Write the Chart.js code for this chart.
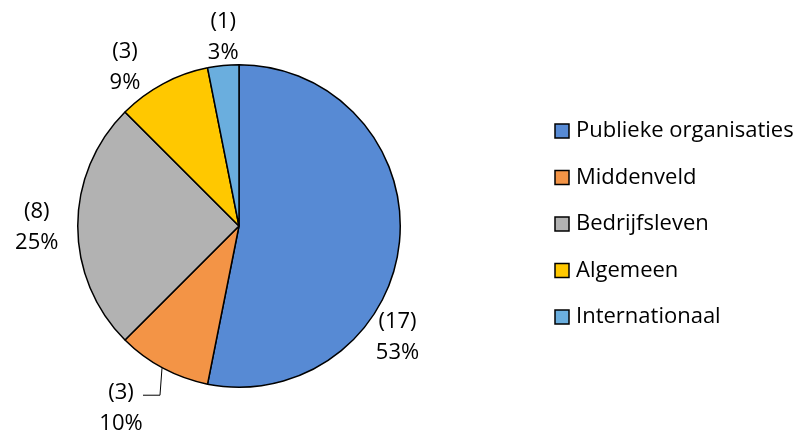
<!DOCTYPE html>
<html>
<head>
  <title>Verdeling naar type organisatie</title>
  <script src="https://cdn.jsdelivr.net/npm/chart.js"></script>
  <style>
    html, body { margin: 0; padding: 0; background: #fff; }
    #wrap { width: 806px; height: 439px; }
  </style>
</head>
<body>
  <div id="wrap"><canvas id="chart" width="806" height="439"></canvas></div>
  <script>
    // data
    var categories = ['Publieke organisaties', 'Middenveld', 'Bedrijfsleven', 'Algemeen', 'Internationaal'];
    var counts = [17, 3, 8, 3, 1];
    var percentLabels = ['53%', '10%', '25%', '9%', '3%'];

    var colors = ['#578AD4', '#F39446', '#B2B2B2', '#FFC800', '#6AAEDE'];
    var FONT = '"Open Sans", "Liberation Sans", sans-serif';

    // label offset from the middle of each slice's outer edge
    var labelOffsets = [[-2, 95], [-42, 40], [-41, 1.5], [-38, -17], [0, -28]];

    var sliceLabels = {
      id: 'sliceLabels',
      afterDraw: function(chart) {
        var ctx = chart.ctx;
        var arcs = chart.getDatasetMeta(0).data;
        ctx.save();
        ctx.font = '22px ' + FONT;
        ctx.fillStyle = '#000';
        ctx.textAlign = 'center';
        ctx.textBaseline = 'middle';
        arcs.forEach(function(arc, i) {
          var mid = (arc.startAngle + arc.endAngle) / 2;
          var ex = arc.x + Math.cos(mid) * arc.outerRadius;
          var ey = arc.y + Math.sin(mid) * arc.outerRadius;
          var lx = ex + labelOffsets[i][0];
          var ly = ey + labelOffsets[i][1];
          ctx.fillText('(' + counts[i] + ')', lx, ly - 15.5);
          ctx.fillText(percentLabels[i], lx, ly + 15.5);
          if (i === 1) {
            // leader line
            ctx.strokeStyle = '#000';
            ctx.lineWidth = 1;
            ctx.beginPath();
            ctx.moveTo(ex - 1, ey);
            ctx.lineTo(ex - 3, ly - 13);
            ctx.lineTo(ex - 20, ly - 13);
            ctx.stroke();
          }
        });
        ctx.restore();
      }
    };

    var sideLegend = {
      id: 'sideLegend',
      afterDraw: function(chart) {
        var ctx = chart.ctx;
        ctx.save();
        ctx.font = '22px ' + FONT;
        ctx.textBaseline = 'middle';
        ctx.textAlign = 'left';
        categories.forEach(function(name, i) {
          var y = 131 + i * 46.5;
          ctx.fillStyle = colors[i];
          ctx.fillRect(555, y - 7, 14, 14);
          ctx.strokeStyle = '#000';
          ctx.lineWidth = 1.5;
          ctx.strokeRect(555, y - 7, 14, 14);
          ctx.fillStyle = '#000';
          ctx.fillText(name, 576, y);
        });
        ctx.restore();
      }
    };

    new Chart(document.getElementById('chart'), {
      type: 'pie',
      data: {
        labels: categories,
        datasets: [{
          data: counts,
          backgroundColor: colors,
          borderColor: '#000',
          borderWidth: 1.5
        }]
      },
      options: {
        responsive: false,
        animation: false,
        events: [],
        layout: { padding: { left: 77, top: 64, right: 405, bottom: 51 } },
        plugins: {
          legend: { display: false },
          tooltip: { enabled: false }
        }
      },
      plugins: [sliceLabels, sideLegend]
    });
  </script>
</body>
</html>
